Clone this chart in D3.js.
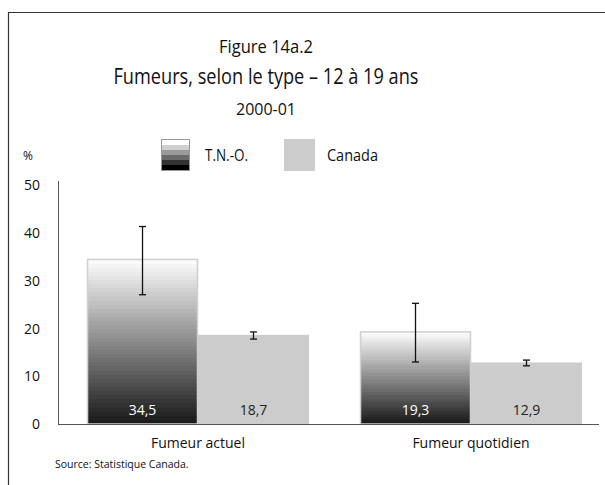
<!DOCTYPE html>
<html><head><meta charset="utf-8">
<script src="https://cdnjs.cloudflare.com/ajax/libs/d3/7.8.5/d3.min.js"></script>
<style>body{margin:0;background:#fff}svg{display:block}text{font-family:"Open Sans",sans-serif;fill:#111}</style>
</head><body>
<svg id="c" width="605" height="485"></svg>
<script>
const categories = ["Fumeur actuel", "Fumeur quotidien"];
const seriesNames = ["T.N.-O.", "Canada"];
const tnoValues = [34.5, 19.3];
const canadaValues = [18.7, 12.9];
const tnoLow = [27.1, 13.0];
const tnoHigh = [41.4, 25.3];
const canadaLow = [17.8, 12.2];
const canadaHigh = [19.3, 13.4];
const yTicks = [0, 10, 20, 30, 40, 50];
const titles = ["Figure 14a.2", "Fumeurs, selon le type \u2013 12 \u00e0 19 ans", "2000-01"];
const sourceText = "Source: Statistique Canada.";

const svg = d3.select("#c");
const fr = d3.formatLocale({decimal: ",", thousands: " ", grouping: [3], currency: ["", "$"]}).format(".1f");

// frame
svg.append("path").attr("d", "M8.5,485 V12.5 H605").attr("fill", "none").attr("stroke", "#333").attr("stroke-width", 1.2);

// titles
const tcx = 266;
function fitText(sel, len) { return sel.attr("textLength", len).attr("lengthAdjust", "spacingAndGlyphs"); }
fitText(svg.append("text").attr("x", tcx).attr("y", 53).attr("text-anchor", "middle").attr("font-size", 19).text(titles[0]), 94);
fitText(svg.append("text").attr("x", tcx).attr("y", 84).attr("text-anchor", "middle").attr("font-size", 21).text(titles[1]), 305);
fitText(svg.append("text").attr("x", tcx).attr("y", 115).attr("text-anchor", "middle").attr("font-size", 17).text(titles[2]), 60);

// gradient defs
const defs = svg.append("defs");
const g = defs.append("linearGradient").attr("id", "tnoGrad").attr("x1", 0).attr("y1", 0).attr("x2", 0).attr("y2", 1);
const nSteps = 40;
const shade = d3.scaleLinear().domain([0, 1]).range(["#fbfbfb", "#1a1a1a"]);
for (let i = 0; i < nSteps; i++) {
  const c = shade(i / (nSteps - 1));
  g.append("stop").attr("offset", i / nSteps).attr("stop-color", c);
  g.append("stop").attr("offset", (i + 1) / nSteps).attr("stop-color", c);
}
const lg = defs.append("linearGradient").attr("id", "legGrad").attr("x1", 0).attr("y1", 0).attr("x2", 0).attr("y2", 1);
const legShades = ["#ffffff", "#cfcfcf", "#9a9a9a", "#6a6a6a", "#333333", "#000000"];
legShades.forEach((c, i) => {
  lg.append("stop").attr("offset", i / legShades.length).attr("stop-color", c);
  lg.append("stop").attr("offset", (i + 1) / legShades.length).attr("stop-color", c);
});

// scales
const y = d3.scaleLinear().domain([0, 50]).range([424, 185.5]);
const x0 = d3.scaleBand().domain(categories).range([61.5, 607.5]).paddingInner(0.187).paddingOuter(0.0935);
const x1 = d3.scaleBand().domain(seriesNames).range([0, x0.bandwidth()]);

// legend
svg.append("text").attr("x", 23).attr("y", 160).attr("font-size", 12).text("%");
svg.append("rect").attr("x", 161.5).attr("y", 139.5).attr("width", 28).attr("height", 31).attr("fill", "url(#legGrad)").attr("stroke", "#999");
fitText(svg.append("text").attr("x", 205).attr("y", 161).attr("font-size", 16).text(seriesNames[0]), 43);
svg.append("rect").attr("x", 284).attr("y", 139).attr("width", 31).attr("height", 32).attr("fill", "#cccccc");
fitText(svg.append("text").attr("x", 327).attr("y", 161).attr("font-size", 16).text(seriesNames[1]), 51);

// y axis
const yAxis = d3.axisLeft(y).tickValues(yTicks).tickSize(0).tickPadding(18).tickFormat(d3.format("d"));
const ya = svg.append("g").attr("transform", "translate(58,0)").call(yAxis);
ya.select(".domain").attr("d", "M0.5,181V424.5").attr("stroke", "#555");
ya.selectAll("text").attr("font-size", 14).attr("font-family", "Open Sans").attr("fill", "#111");

// bars
const rows = categories.map((c, i) => ({
  cat: c,
  items: [
    {s: seriesNames[0], v: tnoValues[i], lo: tnoLow[i], hi: tnoHigh[i]},
    {s: seriesNames[1], v: canadaValues[i], lo: canadaLow[i], hi: canadaHigh[i]}
  ]
}));
const grp = svg.selectAll("g.grp").data(rows).join("g").attr("class", "grp")
  .attr("transform", d => `translate(${x0(d.cat)},0)`);
grp.selectAll("rect").data(d => d.items).join("rect")
  .attr("x", d => x1(d.s) + (d.s === seriesNames[0] ? 0.5 : 0))
  .attr("y", d => y(d.v))
  .attr("width", d => x1.bandwidth() - (d.s === seriesNames[0] ? 1 : 0))
  .attr("height", d => y(0) - y(d.v))
  .attr("fill", d => d.s === seriesNames[0] ? "url(#tnoGrad)" : "#cccccc")
  .attr("stroke", d => d.s === seriesNames[0] ? "#cfcfcf" : "none")
  .attr("stroke-width", 1.5);

// x axis line
svg.append("line").attr("x1", 58).attr("x2", 599).attr("y1", 424.5).attr("y2", 424.5).attr("stroke", "#555").attr("stroke-width", 1);

// value labels
grp.selectAll("text.val").data(d => d.items).join("text").attr("class", "val")
  .attr("x", d => x1(d.s) + x1.bandwidth() / 2).attr("y", 415)
  .attr("text-anchor", "middle").attr("font-size", 14)
  .style("fill", d => d.s === seriesNames[0] ? "#ffffff" : "#222")
  .text(d => fr(d.v));

// error bars
const eb = grp.selectAll("g.eb").data(d => d.items).join("g").attr("class", "eb");
eb.append("line").attr("x1", d => x1(d.s) + x1.bandwidth() / 2).attr("x2", d => x1(d.s) + x1.bandwidth() / 2)
  .attr("y1", d => y(d.lo)).attr("y2", d => y(d.hi)).attr("stroke", "#111").attr("stroke-width", 1.3);
["lo", "hi"].forEach(k => {
  eb.append("line").attr("x1", d => x1(d.s) + x1.bandwidth() / 2 - 3.5).attr("x2", d => x1(d.s) + x1.bandwidth() / 2 + 3.5)
    .attr("y1", d => y(d[k])).attr("y2", d => y(d[k])).attr("stroke", "#111").attr("stroke-width", 1.3);
});

// category labels
svg.selectAll("text.cat").data(categories).join("text").attr("class", "cat")
  .attr("x", d => x0(d) + x0.bandwidth() / 2).attr("y", 448).attr("text-anchor", "middle").attr("font-size", 14)
  .text(d => d);

svg.append("text").attr("x", 55).attr("y", 468).attr("font-size", 10.5).text(sourceText);
</script>
</body></html>
